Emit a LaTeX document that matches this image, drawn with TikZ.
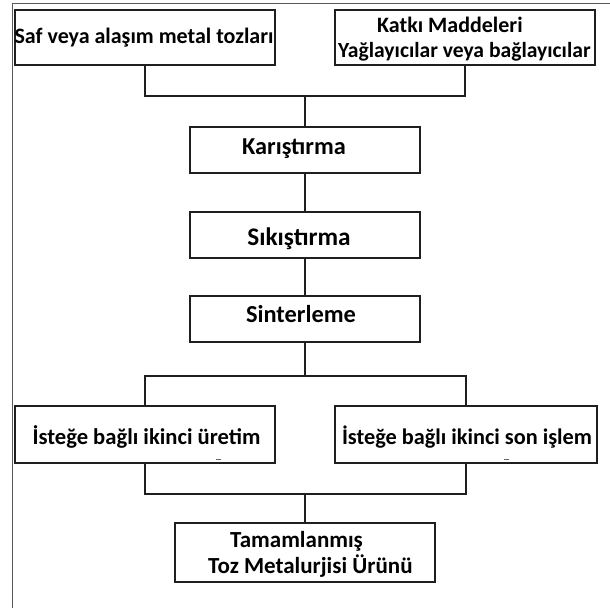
\documentclass[tikz,border=0pt]{standalone}
\usepackage{fontspec}
\setmainfont{Carlito}
\newcommand{\fsz}[1]{\fontsize{#1}{25}\selectfont\bfseries}
\begin{document}
\begin{tikzpicture}[x=1pt,y=-1pt,
  box/.style={draw=black!88,line width=2pt,minimum width=#1,inner sep=0pt},
  txt/.style={inner sep=0pt,anchor=base},
  txtl/.style={inner sep=0pt,anchor=base west},
  link/.style={draw=black!88,line width=2pt}]
\useasboundingbox (0,0) rectangle (610,608);
% page frame
\draw[black!65,line width=1pt] (12,608) -- (12,3) -- (610,3);

% boxes
\node[box=260pt,minimum height=55pt] (pow) at (145,37.5) {};
\node[box=260pt,minimum height=55pt] (add) at (465,37.5) {};
\node[box=230pt,minimum height=46pt] (mix) at (305,150) {};
\node[box=230pt,minimum height=46pt] (cmp) at (305,235) {};
\node[box=230pt,minimum height=46pt] (sin) at (305,319) {};
\node[box=260pt,minimum height=57pt] (sec) at (145,434.5) {};
\node[box=262pt,minimum height=57pt] (fin) at (466,434.5) {};
\node[box=260pt,minimum height=59pt] (prd) at (305,552.5) {};

% labels
\node[txt,font=\fsz{22}] (powT) at (144,43) {Saf veya alaşım metal tozları};
\node[txtl,font=\fsz{22}] (addT1) at (377,32) {Katkı Maddeleri};
\node[txtl,font=\fsz{21.6}] (addT2) at (338,57) {Yağlayıcılar veya bağlayıcılar};
\node[txt,font=\fsz{24.3}] (mixT) at (294,154) {Karıştırma};
\node[txt,font=\fsz{25.3}] (cmpT) at (299,245) {Sıkıştırma};
\node[txt,font=\fsz{24.4}] (sinT) at (301,322) {Sinterleme};
\node[txt,font=\fsz{22.6}] (secT) at (146.5,444) {İsteğe bağlı ikinci üretim};
\node[txt,font=\fsz{22.3}] (finT) at (467,444) {İsteğe bağlı ikinci son işlem};
\node[txtl,font=\fsz{23}] (prdT1) at (230,547) {Tamamlanmış};
\node[txtl,font=\fsz{23}] (prdT2) at (208,573) {Toz Metalurjisi Ürünü};

% junction points of the branches
\coordinate (j1) at (305,96);
\coordinate (j2) at (305,376);
\coordinate (j3) at (305,494);

\draw[link] (pow.south) |- (j1) -| (add.south);
\draw[link] (j1) -- (mix.north);
\draw[link] (mix) -- (cmp);
\draw[link] (cmp) -- (sin);
\draw[link] (sin.south) -- (j2);
\draw[link] (sec.north) |- (j2) -| (fin.north);
\draw[link] (sec.south) |- (j3) -| (fin.south);
\draw[link] (j3) -- (prd.north);

% small marks under the secondary boxes
\draw[black!60,line width=1.5pt] (216,459.5) -- (221,459.5);
\draw[black!60,line width=1.5pt] (504,459.5) -- (509,459.5);
\end{tikzpicture}
\end{document}
